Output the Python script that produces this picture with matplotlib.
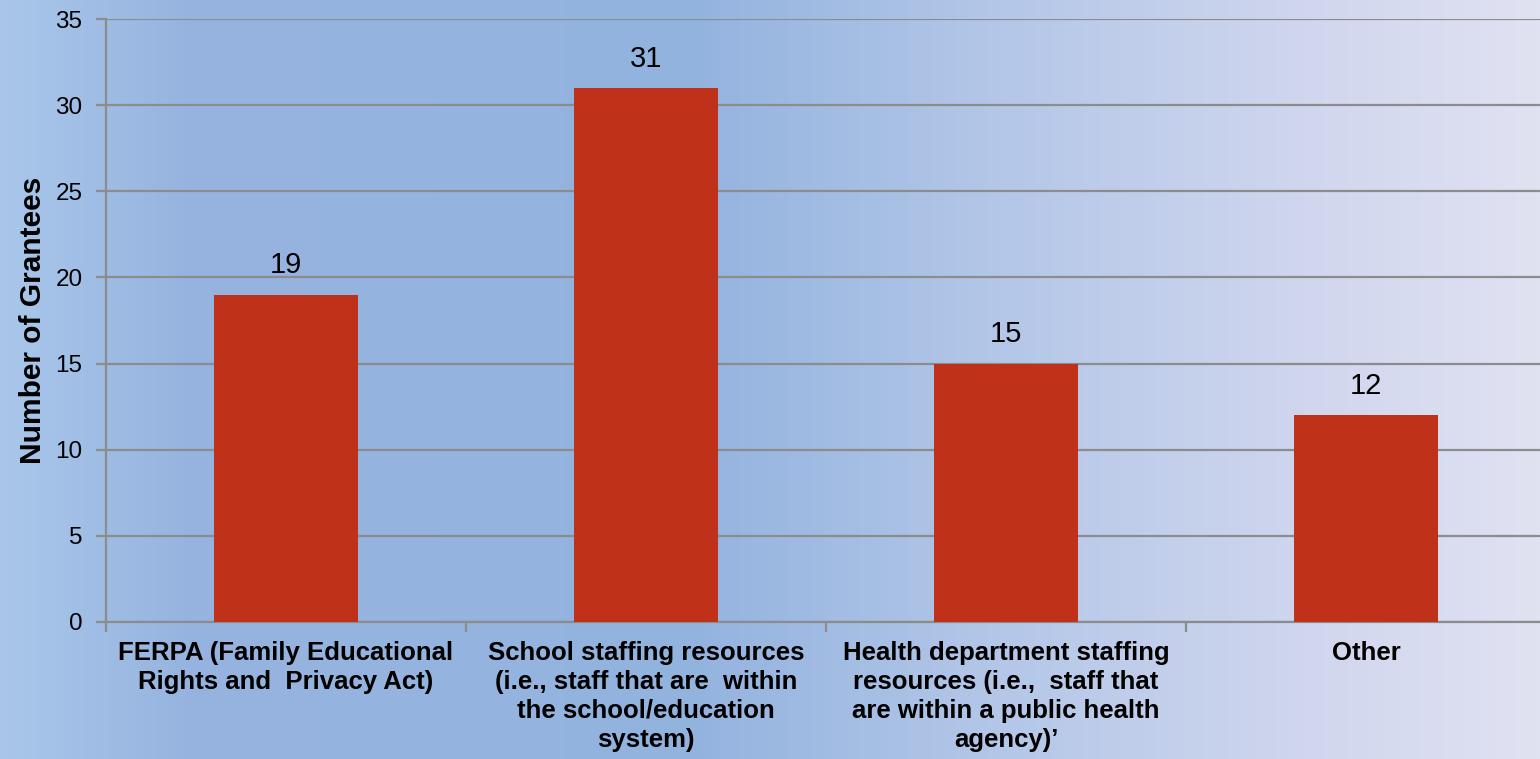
import numpy as np
import matplotlib.pyplot as plt
from matplotlib.colors import LinearSegmentedColormap

categories = [
    "FERPA (Family Educational\nRights and  Privacy Act)",
    "School staffing resources\n(i.e., staff that are  within\nthe school/education\nsystem)",
    "Health department staffing\nresources (i.e.,  staff that\nare within a public health\nagency)\u2019",
    "Other",
]
values = [19, 31, 15, 12]
yticks = [0, 5, 10, 15, 20, 25, 30, 35]

plain = ['Liberation Sans', 'DejaVu Sans']

fig = plt.figure(figsize=(15.4, 7.59), dpi=100)

# background gradient
bg = fig.add_axes([0, 0, 1, 1], zorder=0)
cmap = LinearSegmentedColormap.from_list('bg', [
    (0.0, '#a9c6ea'), (0.12, '#97b4e0'), (0.45, '#93b3df'),
    (0.65, '#b4c7e8'), (0.85, '#d0d6ee'), (1.0, '#e0e2f2')])
grad = np.linspace(0, 1, 512).reshape(1, -1)
bg.imshow(grad, aspect='auto', cmap=cmap, extent=[0, 1, 0, 1])
bg.set_axis_off()

ax = fig.add_axes([106 / 1540, 1 - 622 / 759, 1440 / 1540, 603 / 759], zorder=1)
ax.patch.set_alpha(0)
x = np.arange(len(categories))
bars = ax.bar(x, values, width=0.4, color='#c0311a', zorder=3)
ax.set_xlim(-0.5, len(categories) - 0.5)
ax.set_ylim(0, 35)
ax.set_yticks(yticks)
ax.yaxis.grid(True, color='#8c8c8c', lw=1.6, zorder=1)
for s in ['top', 'right']:
    ax.spines[s].set_visible(False)
for s in ['left', 'bottom']:
    ax.spines[s].set_color('#8c8c8c')
    ax.spines[s].set_linewidth(1.6)

ax.set_xticks(np.arange(len(categories) + 1) - 0.5, minor=True)
ax.set_xticks(x)
ax.set_xticklabels(categories, fontfamily=plain, fontweight='bold', fontsize=18.5,
                   linespacing=1.25, va='top')
ax.tick_params(axis='x', which='major', length=0, pad=14)
ax.tick_params(axis='x', which='minor', length=7, color='#8c8c8c', width=1.6)
ax.tick_params(axis='y', length=7, color='#8c8c8c', width=1.6, labelsize=17.5, pad=10)
for lbl in ax.get_yticklabels():
    lbl.set_fontfamily(plain)

for b, v in zip(bars, values):
    ax.annotate(str(v), (b.get_x() + b.get_width() / 2, v), xytext=(0, 11),
                textcoords='offset points', ha='center', va='bottom',
                fontsize=21, fontfamily=plain)

ax.set_ylabel('Number of Grantees', fontsize=21.5, fontweight='bold',
              fontfamily=plain, labelpad=6)

plt.savefig('out.png', dpi=100)
